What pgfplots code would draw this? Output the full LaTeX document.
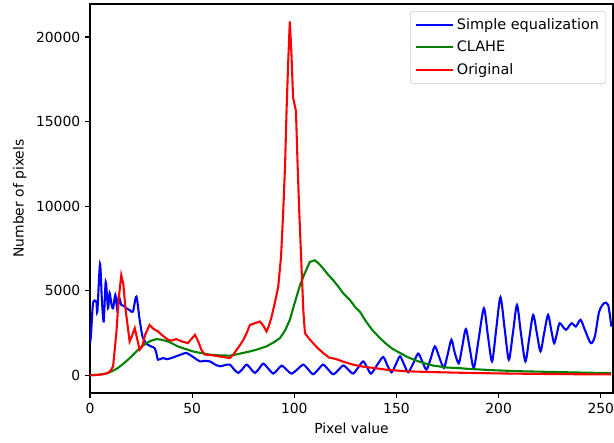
\documentclass[border=0pt]{standalone}
\usepackage{pgfplots}
\pgfplotsset{compat=1.18}
\usepackage{fontspec}
\setmainfont{DejaVu Sans}
\definecolor{mplgreen}{rgb}{0,0.5,0}
\begin{document}
\begin{tikzpicture}
  \begin{axis}[
    scale only axis,
    width=376.6pt,
    height=280.1pt,
    xmin=0, xmax=256,
    ymin=-1050, ymax=21950,
    xtick={0,50,100,150,200,250},
    ytick={0,5000,10000,15000,20000},
    scaled y ticks=false,
    /pgf/number format/assume math mode=true,
    yticklabel style={/pgf/number format/fixed,/pgf/number format/1000 sep={}},
    tick align=outside,
    major tick length=3.5pt,
    tick style={black,line width=0.8pt},
    axis line style={line width=0.8pt},
    xtick pos=bottom, ytick pos=left,
    xlabel={Pixel value},
    ylabel={Number of pixels},
    tick label style={font=\fontsize{10}{12}\selectfont},
    label style={font=\fontsize{10}{12}\selectfont},
    legend style={at={(0.987,0.982)},anchor=north east,draw=black!20,rounded corners=2pt,
      font=\fontsize{10.4}{12}\selectfont,row sep=3pt,inner xsep=3pt,inner ysep=3pt},
    legend cell align={left},
    legend image code/.code={\draw[#1] (0cm,0cm) -- (0.95cm,0cm);},
  ]
    \addplot[blue,line width=1.5pt,smooth,tension=0.45] coordinates {
      (0,1900) (0.5,2400) (1.5,4270) (3.1,4350) (3.6,3760) (4.9,6570) (5.8,4500) (6.7,3180)
      (7.7,5530) (8.8,3960) (9.6,4850) (10.5,4200) (11.3,3960) (12.4,4750) (13.5,3760) (14.1,4650)
      (15.3,4160) (16.5,4100) (17.8,3960) (19.5,3850) (21,3760) (22.7,4650) (24.3,3280) (25.9,2200)
      (28.4,1800) (30,1700) (31.6,1610) (32.5,1300) (33.3,920) (35.7,1020) (37.5,950) (39.8,1020)
      (43,1160) (45,1250) (47.1,1320) (49,1200) (51.2,1020) (53.8,820) (56,850) (58.7,820)
      (61,650) (63.6,530) (66,600) (68.5,630) (70.5,350) (72.6,140) (74.7,380) (76.7,630)
      (78.7,380) (80.7,140) (82.8,400) (84.8,690) (87.2,400) (89.7,100) (91.8,330) (93.8,570)
      (96.2,330) (98.7,100) (101.5,350) (104.4,630) (106.8,350) (109.2,60) (111.6,330) (114.1,630)
      (116.5,350) (119,60) (121.5,300) (124,580) (126.4,330) (128.8,100) (131.2,450) (133.7,820)
      (135.7,450) (137.6,100) (140.5,600) (143.5,1080) (145.5,600) (147.6,180) (149.7,650) (151.7,1120)
      (153.7,650) (155.7,180) (158.2,700) (160.6,1280) (162.7,800) (164.7,335) (166.8,1000) (168.8,1710)
      (171,1050) (173.2,435) (175,1200) (176.9,2100) (178.5,1350) (180.5,700) (182.2,1700) (184,2730)
      (186,1500) (187.9,435) (190.3,2200) (192.8,3960) (194.8,2300) (196.8,820) (198.8,2700) (200.9,4610)
      (203,2700) (205,920) (207,2500) (209,4160) (211,2400) (213.1,820) (215,2200) (216.9,3570)
      (218.7,2500) (220.5,1410) (222.3,2500) (224.2,3570) (225.7,2700) (227.2,1900) (228.6,2500) (229.9,3080)
      (232.9,2690) (235.7,3080) (237.8,2880) (240.1,3280) (242.2,2690) (245.1,1900) (247.1,2290) (249.2,3760)
      (251.6,4260) (253.6,4160) (255.2,2880)
    };
    \addplot[mplgreen,line width=1.5pt] coordinates {
      (0,0) (4,30) (8,100) (11,250) (13.7,435) (16,650) (18.6,920) (21,1200) (23.5,1510) (25.5,1720)
      (27.6,1900) (30,2050) (32.6,2140) (35,2100) (38.2,2000) (41,1830) (43,1710) (45.5,1600) (47.9,1510)
      (50,1420) (52.8,1350) (55,1300) (58.7,1220) (63,1180) (68.5,1160) (73,1270) (78.3,1410) (82,1530)
      (86.4,1710) (90,1950) (93,2200) (95.5,2650) (97.8,3280) (100,4200) (102.7,5300) (105,6000) (107.6,6700)
      (110,6800) (112,6600) (114.1,6320) (116.5,5950) (119,5630) (121.5,5250) (123.9,4850) (127.2,4450)
      (130,4000) (132.1,3760) (135,3200) (138,2700) (141.9,2200) (145,1850) (148,1570) (151.7,1320)
      (155,1100) (159,900) (163,730) (168,570) (174.5,460) (181,420) (185,380) (197,300) (210,240)
      (225,200) (240,160) (255,130)
    };
    \addplot[red,line width=1.5pt] coordinates {
      (0,0) (3,20) (6,50) (8.8,140) (10,250) (11.3,530) (12.9,2490) (14,4450) (15.3,5920) (16.3,5400)
      (17.5,3800) (19.4,2000) (20.5,2300) (21.9,2790) (23,2200) (24.3,1510) (25.5,1700) (27,2400)
      (29.2,2980) (31,2750) (33.3,2590) (35,2400) (38.2,2100) (40,2050) (42.2,2140) (45,2000) (47.9,1900)
      (50,2200) (51.4,2390) (53,2000) (54.5,1500) (56.3,1220) (58.5,1200) (61.2,1160) (64,1100) (68.5,1020)
      (70,1200) (71.8,1510) (73.5,1800) (75.1,2100) (76.7,2500) (78.3,2980) (80,3050) (83.2,3180) (85,2900)
      (86.4,2590) (87.5,2900) (88.9,3470) (90.5,4300) (92.1,5200) (93.5,7000) (94.6,9750) (95.5,12500)
      (96.2,15630) (97,18500) (97.8,20920) (98.6,19000) (99.4,16410) (100.8,15630) (101.6,12500)
      (102.4,9750) (103.5,6500) (104.4,3860) (105.2,2490) (107,2200) (109.2,1900) (111.5,1600) (114.1,1320)
      (117,1050) (120.7,950) (124,800) (128.8,630) (133,520) (138.7,435) (145,330) (154.9,235) (170,180)
      (185,140) (200,110) (220,80) (240,60) (255,50)
    };
    \legend{Simple equalization,CLAHE,Original}
  \end{axis}
  \pgfresetboundingbox
  \path ([xshift=-64.8pt,yshift=-35.3pt]current axis.south west) rectangle ([xshift=0.7pt,yshift=2.9pt]current axis.north east);
\end{tikzpicture}
\end{document}
